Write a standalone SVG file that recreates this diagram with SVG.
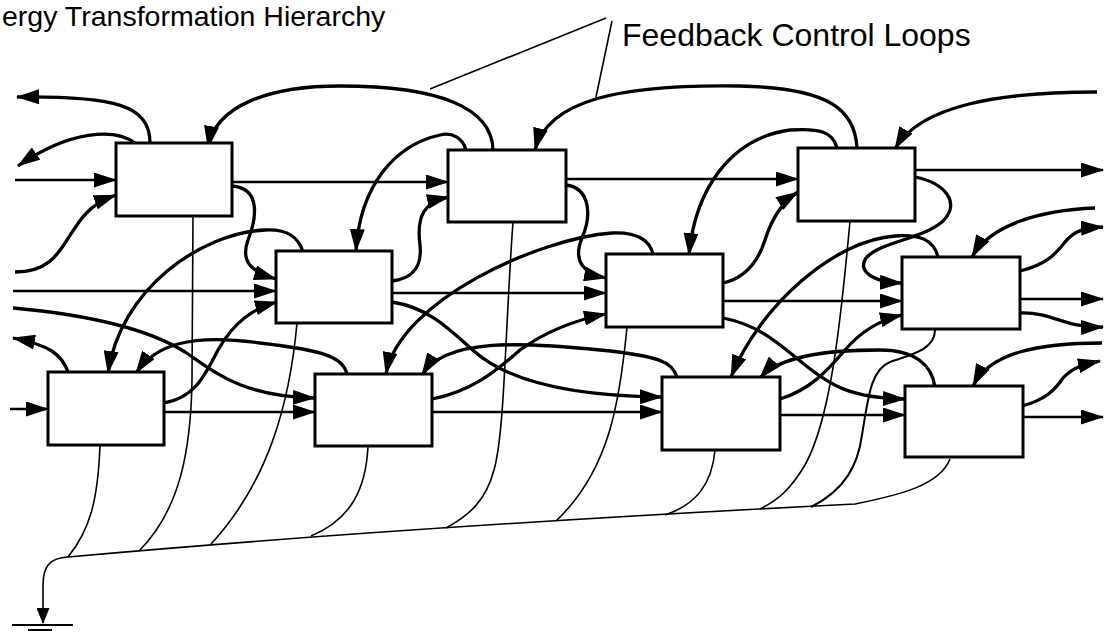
<svg xmlns="http://www.w3.org/2000/svg" width="1106" height="635" viewBox="0 0 1106 635">
<style>
.box{fill:#fff;stroke:#000;stroke-width:3}
.fb{fill:none;stroke:#000;stroke-width:3.3}
.fl{fill:none;stroke:#000;stroke-width:2.5}
.dr{fill:none;stroke:#000;stroke-width:1.6}
.ld{fill:none;stroke:#000;stroke-width:1.6}
.txt{font-family:"Liberation Sans",Arial,Helvetica,sans-serif;fill:#000}
</style>
<defs>
<marker id="ah" markerUnits="userSpaceOnUse" markerWidth="23" markerHeight="15" viewBox="0 0 23 15" refX="22" refY="7.5" orient="auto"><path d="M0,0 L23,7.5 L0,15 z" fill="#000"/></marker>
<marker id="ahs" markerUnits="userSpaceOnUse" markerWidth="16" markerHeight="13" viewBox="0 0 16 13" refX="15" refY="6.5" orient="auto"><path d="M0,0 L16,6.5 L0,13 z" fill="#000"/></marker>
</defs>
<rect width="1106" height="635" fill="#fff"/>
<text class="txt" x="2" y="26" font-size="28.5">ergy Transformation Hierarchy</text>
<text class="txt" x="622" y="46" font-size="32">Feedback Control Loops</text>
<g id="leaders">
<path class="ld" d="M430,89 L606,18"/>
<path class="ld" d="M612,21 L596,97"/>
</g>
<g id="connectors">
<path class="dr" d="M68,557 Q400,527 855,504 C900,495 940,485 950,459"/>
<path class="dr" d="M68,557 C50,558 43,566 43,585 L43,623" marker-end="url(#ahs)"/>
<path class="dr" d="M100,445 C98,500 90,530 68,557"/>
<path class="dr" d="M193,216 L192,380 C191,450 180,510 139,551"/>
<path class="dr" d="M297,323 C290,400 270,480 211,544"/>
<path class="dr" d="M368,446 C366,490 350,520 311,536"/>
<path class="dr" d="M513,222 C505,330 505,430 494,470 C486,500 470,515 446,528"/>
<path class="dr" d="M627,327 C620,400 610,470 556,521"/>
<path class="dr" d="M715,450 C712,485 695,505 665,515"/>
<path class="dr" d="M850,221 C840,330 830,420 805,465 C790,490 778,500 760,509"/>
<path class="dr" style="stroke-width:2" d="M935,330 C935,350 910,355 890,362 C870,370 868,400 862,435 C858,465 845,490 811,507"/>
<path class="fl" d="M15,180 L116,180" marker-end="url(#ah)"/>
<path class="fl" d="M232,182 L448,182" marker-end="url(#ah)"/>
<path class="fl" d="M566,179 L798,179" marker-end="url(#ah)"/>
<path class="fl" d="M915,170 L1103,170" marker-end="url(#ah)"/>
<path class="fl" d="M13,291 L276,291" marker-end="url(#ah)"/>
<path class="fl" d="M392,293 L606,293" marker-end="url(#ah)"/>
<path class="fl" d="M723,301 L902,301" marker-end="url(#ah)"/>
<path class="fl" d="M1020,299 L1103,299" marker-end="url(#ah)"/>
<path class="fl" d="M10,409 L48,409" marker-end="url(#ah)"/>
<path class="fl" d="M164,412 L315,412" marker-end="url(#ah)"/>
<path class="fl" d="M432,412 L662,412" marker-end="url(#ah)"/>
<path class="fl" d="M780,415 L905,415" marker-end="url(#ah)"/>
<path class="fl" d="M1023,417 L1103,417" marker-end="url(#ah)"/>
<path class="fb" d="M150,143 C150,105 115,96 17,97" marker-end="url(#ah)"/>
<path class="fb" d="M135,143 C115,128 70,130 18,166" marker-end="url(#ah)"/>
<path class="fb" d="M15,272 C55,272 62,245 75,228 C85,212 96,202 116,195" marker-end="url(#ah)"/>
<path class="fb" d="M493,150 C492,108 440,86 340,86 C270,86 215,105 208,148" marker-end="url(#ah)"/>
<path class="fb" d="M466,150 C463,138 452,132 440,135 C395,145 360,185 356,251" marker-end="url(#ah)"/>
<path class="fb" d="M232,186 C262,188 256,220 248,240 C240,262 252,272 276,279" marker-end="url(#ah)"/>
<path class="fb" d="M303,252 C298,235 285,229 265,230 C200,233 120,290 108,373" marker-end="url(#ah)"/>
<path class="fb" d="M164,403 C195,398 205,375 218,350 C235,320 255,308 277,302" marker-end="url(#ah)"/>
<path class="fb" d="M13,308 C90,315 150,330 185,352 C215,372 240,396 315,398" marker-end="url(#ah)"/>
<path class="fb" d="M68,372 C62,355 50,345 13,338" marker-end="url(#ah)"/>
<path class="fb" d="M347,374 C343,356 320,350 260,343 C190,333 155,345 136,373" marker-end="url(#ah)"/>
<path class="fb" d="M432,399 C470,392 495,372 520,350 C545,332 575,320 606,314" marker-end="url(#ah)"/>
<path class="fb" d="M653,254 C649,238 635,232 612,233 C540,238 400,300 386,374" marker-end="url(#ah)"/>
<path class="fb" d="M677,377 C672,362 660,356 600,350 C520,342 445,338 422,375" marker-end="url(#ah)"/>
<path class="fb" d="M392,281 C415,278 422,265 420,245 C416,215 425,202 449,197" marker-end="url(#ah)"/>
<path class="fb" d="M392,302 C430,308 450,330 475,352 C505,378 560,396 662,397" marker-end="url(#ah)"/>
<path class="fb" d="M566,185 C590,188 592,215 582,238 C572,262 585,274 606,278" marker-end="url(#ah)"/>
<path class="fb" d="M723,283 C745,278 758,262 765,240 C772,218 782,202 798,192" marker-end="url(#ah)"/>
<path class="fb" d="M837,148 C833,132 820,128 790,130 C730,138 695,190 689,255" marker-end="url(#ah)"/>
<path class="fb" d="M857,148 C855,110 830,88 740,86 C620,84 548,100 535,150" marker-end="url(#ah)"/>
<path class="fb" d="M1097,92 C1000,92 920,105 895,149" marker-end="url(#ah)"/>
<path class="fb" d="M915,177 C945,183 962,203 942,222 C920,240 880,242 866,258 C858,270 870,282 902,283" marker-end="url(#ah)"/>
<path class="fb" d="M723,318 C760,325 780,345 805,365 C830,385 850,398 905,399" marker-end="url(#ah)"/>
<path class="fb" d="M780,399 C810,390 828,370 845,350 C862,330 880,320 902,315" marker-end="url(#ah)"/>
<path class="fb" d="M935,387 C932,365 915,350 880,350 C830,350 780,355 760,378" marker-end="url(#ah)"/>
<path class="fb" d="M1102,343 C1040,343 990,352 973,386" marker-end="url(#ah)"/>
<path class="fb" d="M1022,406 C1045,400 1055,390 1063,378 C1072,368 1082,365 1100,361" marker-end="url(#ah)"/>
<path class="fb" d="M1020,271 C1045,265 1055,255 1065,242 C1075,230 1085,228 1103,227" marker-end="url(#ah)"/>
<path class="fb" d="M1020,313 C1055,312 1062,328 1103,327" marker-end="url(#ah)"/>
<path class="fb" d="M1095,208 C1040,210 990,225 972,257" marker-end="url(#ah)"/>
<path class="fb" d="M938,257 C934,240 920,234 895,236 C835,240 760,305 731,377" marker-end="url(#ah)"/>
</g>
<g id="ground">
<path d="M12,625 L73,625 M28,630 L52,630" stroke="#000" stroke-width="2"/>
</g>
<g id="nodeA"><rect class="box" x="116" y="143" width="116" height="73"/></g>
<g id="nodeB"><rect class="box" x="448" y="150" width="118" height="72"/></g>
<g id="nodeC"><rect class="box" x="798" y="148" width="117" height="73"/></g>
<g id="nodeD"><rect class="box" x="276" y="251" width="116" height="72"/></g>
<g id="nodeE"><rect class="box" x="606" y="254" width="117" height="73"/></g>
<g id="nodeF"><rect class="box" x="902" y="257" width="118" height="72"/></g>
<g id="nodeG"><rect class="box" x="48" y="372" width="116" height="73"/></g>
<g id="nodeH"><rect class="box" x="315" y="374" width="117" height="72"/></g>
<g id="nodeI"><rect class="box" x="662" y="377" width="118" height="73"/></g>
<g id="nodeJ"><rect class="box" x="905" y="386" width="118" height="71"/></g>
</svg>
